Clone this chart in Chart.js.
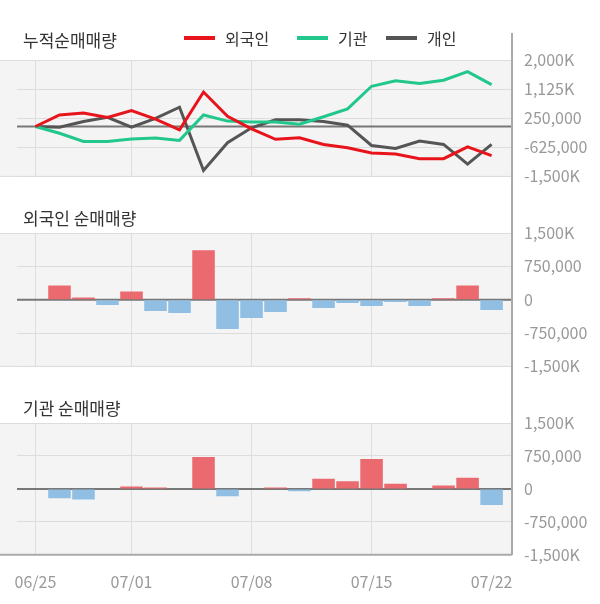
<!DOCTYPE html>
<html>
<head>
<meta charset="utf-8">
<script src="https://cdn.jsdelivr.net/npm/chart.js@4/dist/chart.umd.min.js"></script>
<style>
  body { margin: 0; background: #fff; font-family: "Noto Sans CJK KR", "Noto Sans", sans-serif; }
  #wrap { position: relative; width: 600px; height: 604px; overflow: hidden; }
  canvas { position: absolute; left: 0; }
  .title { position: absolute; left: 23px; font-size: 17px; color: #333; line-height: 20px; }
  .legend-item { position: absolute; top: 28px; height: 20px; display: flex; align-items: center; font-size: 16px; color: #333; }
  .legend-item i { display: inline-block; width: 31px; height: 4px; margin-right: 10px; }
  #axisLine { position: absolute; left: 511px; top: 33px; width: 2px; height: 522px; background: #aaa; }
</style>
</head>
<body>
<div id="wrap">
  <canvas id="cumChart" width="600" height="198" style="top:0"></canvas>
  <canvas id="foreignChart" width="600" height="198" style="top:190px"></canvas>
  <canvas id="instChart" width="600" height="243" style="top:380px"></canvas>
  <div class="title" style="top:30px">누적순매매량</div>
  <div class="title" style="top:208px">외국인 순매매량</div>
  <div class="title" style="top:398px">기관 순매매량</div>
  <div id="legend"></div>
  <div id="axisLine"></div>
</div>
<script>
// trading days
const dates = ['06/25', '06/26', '06/27', '06/28', '07/01', '07/02', '07/03', '07/04', '07/05',
    '07/08', '07/09', '07/10', '07/11', '07/12', '07/15', '07/16', '07/17', '07/18', '07/19', '07/22'];
const tickLabels = ['06/25', '07/01', '07/08', '07/15', '07/22'];

// cumulative net buying
const foreignCum = [0, 346000, 407000, 275000, 478000, 224000, -102000, 1037000, 305000, -70000,
    -386000, -336000, -539000, -641000, -793000, -824000, -966000, -966000, -610000, -875000];
const instCum = [0, -203000, -447000, -447000, -376000, -346000, -417000, 346000, 163000, 135000,
    132000, 71000, 295000, 529000, 1210000, 1373000, 1292000, 1393000, 1648000, 1261000];
const indivCum = [0, -20000, 153000, 275000, -20000, 244000, 580000, -1322000, -488000, -40000,
    203000, 203000, 153000, 41000, -570000, -661000, -437000, -539000, -1129000, -539000];

// daily net buying
const foreignDaily = [0, 322000, 52000, -120000, 187000, -255000, -300000, 1110000, -660000, -412000,
    -277000, 30000, -187000, -75000, -142000, -52000, -142000, 30000, 322000, -232000];
const instDaily = [0, -210000, -240000, 0, 52000, 30000, 0, 727000, -165000, 0,
    30000, -52000, 232000, 172000, 682000, 120000, 0, 75000, 255000, -367000];

const cumTicks = [-1500000, -625000, 250000, 1125000, 2000000];
const barTicks = [-1500000, -750000, 0, 750000, 1500000];

const seriesNames = ['외국인', '기관', '개인'];
const seriesColors = ['#e8141c', '#22c78c', '#555555'];

const tickDays = tickLabels.map(l => dates.indexOf(l));
const FONT = '"Noto Sans CJK KR", "Noto Sans", sans-serif';

const fmt = (v) => Math.abs(v) >= 1000000
    ? (v / 1000).toLocaleString('en-US') + 'K'
    : v.toLocaleString('en-US');

const toXY = (arr) => arr.map((v, i) => ({ x: i, y: v }));

// gray panel, edge lines and zero line
const panel = {
    id: 'panel',
    beforeDraw(chart) {
        const { ctx, chartArea: a } = chart;
        ctx.save();
        ctx.fillStyle = '#f4f4f4';
        ctx.fillRect(0, a.top, a.right, a.bottom - a.top);
        ctx.restore();
    },
    beforeDatasetsDraw(chart, args, opts) {
        const { ctx, chartArea: a } = chart;
        ctx.save();
        ctx.lineWidth = 1;
        ctx.strokeStyle = '#dcdcdc';
        ctx.beginPath();
        ctx.moveTo(0, a.top + 0.5);
        ctx.lineTo(a.right, a.top + 0.5);
        ctx.stroke();
        ctx.lineWidth = opts.bottomWidth || 1;
        ctx.strokeStyle = opts.bottomColor || '#dcdcdc';
        ctx.beginPath();
        ctx.moveTo(0, a.bottom);
        ctx.lineTo(a.right, a.bottom);
        ctx.stroke();
        const y0 = chart.scales.y.getPixelForValue(0);
        ctx.lineWidth = 2;
        ctx.strokeStyle = '#777';
        ctx.beginPath();
        ctx.moveTo(a.left, y0);
        ctx.lineTo(a.right, y0);
        ctx.stroke();
        ctx.restore();
    }
};

const makeScales = (yTicks, showX) => ({
    x: {
        type: 'linear',
        min: -0.77,
        max: 19.85,
        offset: false,
        afterBuildTicks: (s) => { s.ticks = tickDays.map(v => ({ value: v })); },
        afterFit: (s) => { s.paddingLeft = 0; s.paddingRight = 0; },
        grid: {
            offset: false,
            drawTicks: false,
            color: (c) => c.tick && c.tick.value === 19 ? 'rgba(0,0,0,0)' : '#dddddd'
        },
        border: { display: false },
        ticks: {
            display: showX,
            padding: 18,
            color: '#999',
            font: { family: FONT, size: 16 },
            maxRotation: 0,
            callback: (v) => dates[v]
        }
    },
    y: {
        position: 'right',
        min: yTicks[0],
        max: yTicks[yTicks.length - 1],
        afterBuildTicks: (s) => { s.ticks = yTicks.map(v => ({ value: v })); },
        afterFit: (s) => { s.width = 88; },
        grid: { drawTicks: false, color: '#dddddd' },
        border: { display: false },
        ticks: {
            padding: 12,
            color: '#999',
            font: { family: FONT, size: 16 },
            callback: (v) => fmt(v)
        }
    }
});

const baseOptions = (yTicks, showX, padding, panelOpts) => ({
    responsive: false,
    animation: false,
    layout: { padding: padding },
    plugins: {
        legend: { display: false },
        tooltip: { enabled: false },
        panel: panelOpts || {}
    },
    scales: makeScales(yTicks, showX)
});

// Cumulative chart
new Chart(document.getElementById('cumChart'), {
    type: 'line',
    data: {
        datasets: [foreignCum, instCum, indivCum].map((arr, i) => ({
            label: seriesNames[i],
            data: toXY(arr),
            borderColor: seriesColors[i],
            borderWidth: 3,
            pointRadius: 0,
            tension: 0,
            fill: false
        }))
    },
    options: baseOptions(cumTicks, false, { left: 17, top: 60, bottom: 14, right: 0 }),
    plugins: [panel]
});

const barDataset = (arr) => ({
    data: toXY(arr),
    backgroundColor: (c) => c.raw && c.raw.y >= 0 ? '#eb6a6f' : '#90bfe3',
    barPercentage: 0.94,
    categoryPercentage: 1
});

new Chart(document.getElementById('foreignChart'), {
    type: 'bar',
    data: { datasets: [barDataset(foreignDaily)] },
    options: baseOptions(barTicks, false, { left: 17, top: 43, bottom: 15, right: 0 }),
    plugins: [panel]
});

new Chart(document.getElementById('instChart'), {
    type: 'bar',
    data: { datasets: [barDataset(instDaily)] },
    options: baseOptions(barTicks, true, { left: 17, top: 43, bottom: 13, right: 0 },
        { bottomColor: '#aaa', bottomWidth: 2 }),
    plugins: [panel]
});

// legend for the cumulative chart
const legendLeft = [184, 297, 386];
const legend = document.getElementById('legend');
seriesNames.forEach((name, i) => {
    const item = document.createElement('div');
    item.className = 'legend-item';
    item.style.left = legendLeft[i] + 'px';
    item.innerHTML = '<i style="background:' + seriesColors[i] + '"></i>' + name;
    legend.appendChild(item);
});
</script>
</body>
</html>
